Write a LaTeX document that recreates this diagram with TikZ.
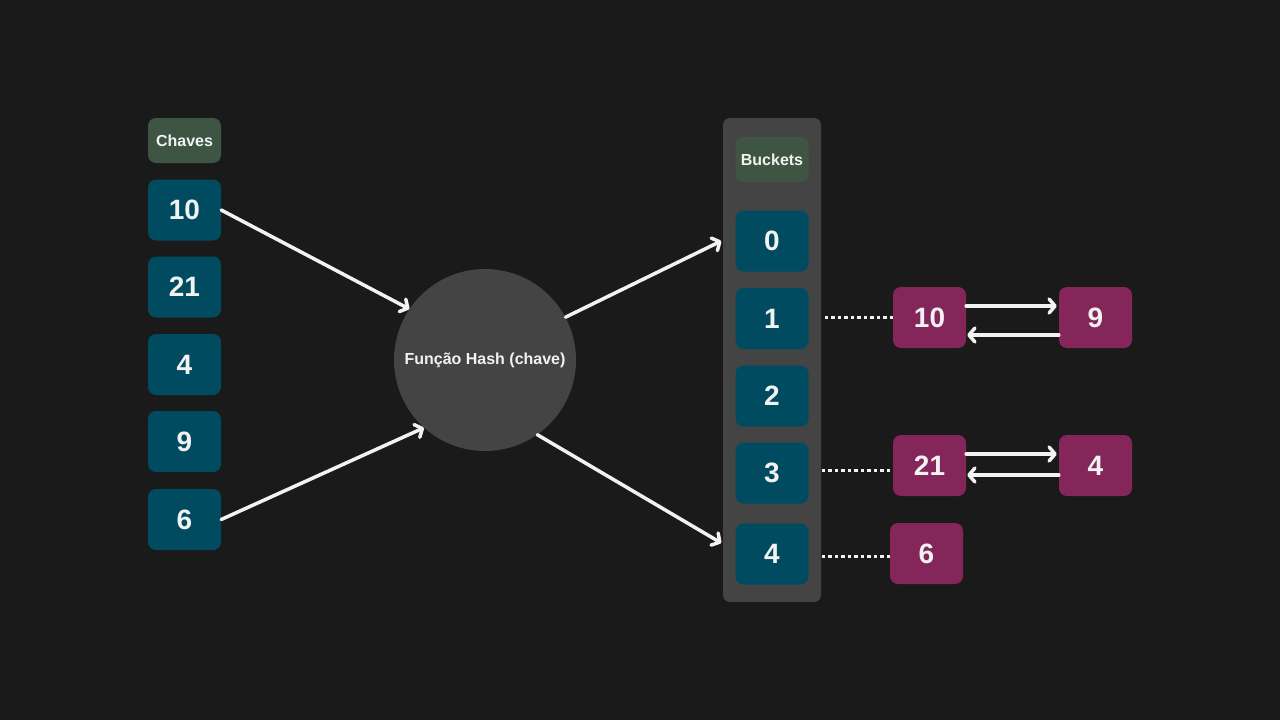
\documentclass[tikz,border=0pt]{standalone}
\usepackage{fontspec}
\setmainfont{Liberation Sans}
\usetikzlibrary{arrows.meta}
\definecolor{bg}{HTML}{1A1A1A}
\definecolor{teal}{HTML}{004B5F}
\definecolor{pinkc}{HTML}{842659}
\definecolor{greenc}{HTML}{3E5543}
\definecolor{grayc}{HTML}{444444}
\definecolor{wt}{HTML}{F2F2F2}
\tikzset{
  box/.style={rounded corners=8pt, minimum width=73pt, minimum height=61pt, inner sep=0pt, text=wt, font=\fontsize{28}{30}\selectfont\bfseries},
  keybox/.style={box, fill=teal},
  listbox/.style={box, fill=pinkc},
  labelbox/.style={rounded corners=8pt, minimum width=73pt, minimum height=45pt, inner sep=0pt, fill=greenc, text=wt, font=\fontsize{16}{18}\selectfont\bfseries},
  arr/.style={draw=wt, line width=3.5pt, line cap=round, -{Straight Barb[length=6pt,width=14pt,line cap=round,line join=round]}},
  dots/.style={draw=wt, line width=3.5pt, dash pattern=on 3.5pt off 3pt}
}
\begin{document}
\begin{tikzpicture}[x=1pt,y=-1pt]
\fill[bg] (0,0) rectangle (1280,720);
\useasboundingbox (0,0) rectangle (1280,720);
% panel
\fill[grayc, rounded corners=7pt] (723,118) rectangle (821,602);
% keys
\node[labelbox] (chaves) at (184.5,140.5) {Chaves};
\node[keybox] (k10) at (184.5,210) {10};
\node[keybox] (k21) at (184.5,287) {21};
\node[keybox] (k4) at (184.5,364.5) {4};
\node[keybox] (k9) at (184.5,441.5) {9};
\node[keybox] (k6) at (184.5,519.5) {6};
% hash
\node[circle, fill=grayc, minimum size=182pt, inner sep=0pt, text=wt, font=\fontsize{16}{18}\selectfont\bfseries] (hash) at (485,360) {Função Hash (chave)};
% buckets
\node[labelbox] (buckets) at (772,159.5) {Buckets};
\node[keybox] (b0) at (772,241) {0};
\node[keybox] (b1) at (772,318.5) {1};
\node[keybox] (b2) at (772,396) {2};
\node[keybox] (b3) at (772,473) {3};
\node[keybox] (b4) at (772,554) {4};
% lists
\node[listbox] (l10) at (929.5,317.5) {10};
\node[listbox] (l9) at (1095.5,317.5) {9};
\node[listbox] (l21) at (929.5,465.5) {21};
\node[listbox] (l4) at (1095.5,465.5) {4};
\node[listbox] (l6) at (926.5,553.5) {6};
% arrows
\draw[arr] (k10.east) -- (hash.146);
\draw[arr] (k6.east) -- (hash.228.5);
\draw[arr] (hash.28) -- ([xshift=-14pt]b0.west);
\draw[arr] (hash.-55) -- ([xshift=-14pt,yshift=11pt]b4.west);
% dotted
\draw[dots] ([xshift=-68pt]l10.west) -- (l10.west);
\draw[dots] ([xshift=-71pt,yshift=-5pt]l21.west) -- ([yshift=-5pt]l21.west);
\draw[dots] ([xshift=-68pt,yshift=-3pt]l6.west) -- ([yshift=-3pt]l6.west);
% list arrows
\draw[arr] ([yshift=11.5pt]l10.east) -- ([xshift=-2pt,yshift=11.5pt]l9.west);
\draw[arr] ([yshift=-17.5pt]l9.west) -- ([xshift=1pt,yshift=-17.5pt]l10.east);
\draw[arr] ([yshift=11.5pt]l21.east) -- ([xshift=-2pt,yshift=11.5pt]l4.west);
\draw[arr] ([yshift=-9.5pt]l4.west) -- ([xshift=1pt,yshift=-9.5pt]l21.east);
\end{tikzpicture}
\end{document}
